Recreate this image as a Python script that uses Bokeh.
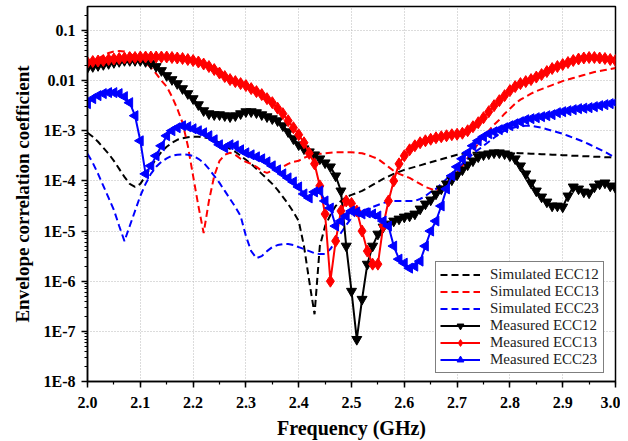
import math
from bokeh.plotting import figure
from bokeh.models import Range1d, FixedTicker, SingleIntervalTicker, PrintfTickFormatter
from bokeh.embed import file_html
from bokeh.resources import INLINE

# Frequency grid (GHz)
freq = [round(2.0 + 0.01 * i, 2) for i in range(101)]

# Values, stored as log10(ECC)
meas12_log = [
    -1.74, -1.72, -1.70, -1.68, -1.66, -1.64, -1.62, -1.60, -1.60, -1.60,
    -1.60, -1.62, -1.66, -1.72, -1.80, -1.90, -1.98, -2.06, -2.16, -2.26,
    -2.36, -2.48, -2.60, -2.66, -2.68, -2.68, -2.70, -2.72, -2.70, -2.66,
    -2.62, -2.62, -2.64, -2.68, -2.72, -2.76, -2.80, -2.90, -3.02, -3.16,
    -3.28, -3.36, -3.42, -3.48, -3.56, -3.64, -3.72, -3.90, -4.20, -5.30,
    -6.20, -7.16, -6.36, -5.66, -5.30, -5.06, -4.92, -4.86, -4.80, -4.76,
    -4.72, -4.70, -4.66, -4.56, -4.46, -4.38, -4.26, -4.16, -4.06, -3.98,
    -3.88, -3.78, -3.68, -3.60, -3.52, -3.48, -3.46, -3.44, -3.44, -3.46,
    -3.50, -3.56, -3.70, -3.86, -4.04, -4.20, -4.32, -4.42, -4.50, -4.50,
    -4.52, -4.30, -4.12, -4.16, -4.22, -4.24, -4.12, -4.06, -4.04, -4.10,
    -4.14,
]
meas13_log = [
    -1.64, -1.62, -1.61, -1.60, -1.58, -1.57, -1.56, -1.55, -1.54, -1.54,
    -1.53, -1.53, -1.53, -1.53, -1.53, -1.53, -1.54, -1.55, -1.56, -1.58,
    -1.60, -1.63, -1.67, -1.72, -1.78, -1.85, -1.92, -1.98, -2.02, -2.06,
    -2.10, -2.16, -2.22, -2.28, -2.36, -2.44, -2.55, -2.66, -2.80, -2.94,
    -3.08, -3.24, -3.45, -3.66, -4.10, -4.66, -6.00, -5.20, -4.60, -4.40,
    -4.45, -4.60, -5.00, -5.40, -5.66, -5.66, -4.90, -4.40, -4.00, -3.66,
    -3.50, -3.38, -3.30, -3.24, -3.20, -3.17, -3.14, -3.12, -3.10, -3.08,
    -3.07, -3.05, -3.00, -2.92, -2.84, -2.74, -2.62, -2.50, -2.40, -2.30,
    -2.20, -2.12, -2.06, -2.02, -1.98, -1.93, -1.88, -1.82, -1.76, -1.72,
    -1.68, -1.64, -1.60, -1.57, -1.55, -1.54, -1.54, -1.55, -1.56, -1.58,
    -1.60,
]
meas23_log = [
    -2.46, -2.36, -2.30, -2.26, -2.24, -2.24, -2.26, -2.32, -2.44, -2.70,
    -3.20, -3.86, -3.70, -3.50, -3.30, -3.10, -3.00, -2.94, -2.90, -2.92,
    -2.96, -3.00, -3.04, -3.10, -3.18, -3.28, -3.34, -3.28, -3.30, -3.38,
    -3.44, -3.48, -3.52, -3.56, -3.62, -3.70, -3.78, -3.86, -3.94, -4.02,
    -4.12, -4.26, -4.34, -4.22, -4.20, -4.40, -4.54, -4.90, -4.80, -4.70,
    -4.60, -4.62, -4.66, -4.64, -4.66, -4.70, -4.80, -4.90, -5.30, -5.56,
    -5.64, -5.74, -5.70, -5.60, -5.30, -5.00, -4.80, -4.50, -4.16, -3.90,
    -3.72, -3.56, -3.44, -3.30, -3.20, -3.12, -3.06, -3.02, -2.98, -2.94,
    -2.90, -2.86, -2.82, -2.78, -2.76, -2.74, -2.72, -2.70, -2.68, -2.64,
    -2.62, -2.60, -2.58, -2.56, -2.55, -2.54, -2.52, -2.50, -2.48, -2.46,
    -2.44,
]
sim12_log = [
    -3.04, -3.12, -3.22, -3.34, -3.46, -3.60, -3.76, -3.92, -4.06, -4.12,
    -4.06, -3.90, -3.72, -3.56, -3.42, -3.32, -3.24, -3.18, -3.15, -3.13,
    -3.12, -3.12, -3.13, -3.15, -3.18, -3.24, -3.30, -3.36, -3.42, -3.50,
    -3.58, -3.66, -3.76, -3.86, -3.96, -4.06, -4.18, -4.32, -4.46, -4.62,
    -4.80, -5.30, -6.00, -6.66, -5.30, -4.90, -4.68, -4.50, -4.40, -4.32,
    -4.28, -4.24, -4.20, -4.14, -4.08, -4.02, -3.96, -3.91, -3.86, -3.82,
    -3.78, -3.75, -3.72, -3.69, -3.66, -3.63, -3.60, -3.57, -3.54, -3.51,
    -3.48, -3.46, -3.45, -3.44, -3.44, -3.44, -3.44, -3.44, -3.44, -3.44,
    -3.44, -3.44, -3.45, -3.45, -3.46, -3.46, -3.47, -3.47, -3.48, -3.48,
    -3.49, -3.49, -3.50, -3.50, -3.51, -3.51, -3.52, -3.52, -3.53, -3.53,
    -3.54,
]
sim13_log = [
    -1.66, -1.62, -1.56, -1.50, -1.45, -1.42, -1.41, -1.42, -1.46, -1.52,
    -1.58, -1.64, -1.74, -1.86, -2.00, -2.12, -2.32, -2.56, -2.84, -3.30,
    -3.90, -4.50, -5.04, -4.40, -3.90, -3.60, -3.48, -3.44, -3.48, -3.56,
    -3.62, -3.66, -3.72, -3.80, -3.84, -3.80, -3.76, -3.72, -3.66, -3.62,
    -3.60, -3.54, -3.50, -3.48, -3.46, -3.45, -3.44, -3.43, -3.43, -3.43,
    -3.43, -3.44, -3.45, -3.48, -3.52, -3.56, -3.64, -3.72, -3.80, -3.86,
    -3.90, -3.94, -4.00, -4.06, -4.12, -4.16, -4.20, -4.12, -4.04, -3.94,
    -3.84, -3.70, -3.54, -3.40, -3.26, -3.12, -3.00, -2.88, -2.78, -2.66,
    -2.56, -2.46, -2.38, -2.32, -2.26, -2.21, -2.17, -2.13, -2.09, -2.05,
    -2.01, -1.98, -1.95, -1.92, -1.89, -1.86, -1.83, -1.81, -1.79, -1.77,
    -1.75,
]
sim23_log = [
    -3.46, -3.64, -3.86, -4.10, -4.34, -4.58, -4.90, -5.20, -4.90, -4.60,
    -4.30, -4.06, -3.86, -3.72, -3.62, -3.55, -3.50, -3.48, -3.47, -3.48,
    -3.50, -3.56, -3.64, -3.76, -3.90, -4.04, -4.20, -4.36, -4.52, -4.70,
    -5.10, -5.40, -5.54, -5.50, -5.40, -5.32, -5.28, -5.26, -5.26, -5.28,
    -5.32, -5.36, -5.40, -5.44, -5.46, -5.46, -5.36, -5.20, -5.04, -4.88,
    -4.74, -4.66, -4.60, -4.56, -4.52, -4.48, -4.44, -4.42, -4.40, -4.40,
    -4.40, -4.40, -4.40, -4.36, -4.30, -4.22, -4.16, -4.06, -3.96, -3.86,
    -3.76, -3.66, -3.56, -3.46, -3.38, -3.30, -3.22, -3.14, -3.06, -3.00,
    -2.96, -2.93, -2.91, -2.90, -2.90, -2.92, -2.94, -2.97, -3.00, -3.03,
    -3.06, -3.10, -3.14, -3.18, -3.22, -3.27, -3.32, -3.37, -3.42, -3.48,
    -3.54,
]

y_tick_values = [1e-8, 1e-7, 1e-6, 1e-5, 1e-4, 1e-3, 1e-2, 1e-1]
y_tick_labels = ["1E-8", "1E-7", "1E-6", "1E-5", "1E-4", "1E-3", "0.01", "0.1"]

series_names = ["Simulated ECC12", "Simulated ECC13", "Simulated ECC23",
                "Measured ECC12", "Measured ECC13", "Measured ECC23"]

x_title = "Frequency (GHz)"
y_title = "Envelope correlation coefficient"


def to_lin(vals):
    return [10 ** v for v in vals]


FONT = "Liberation Serif"
DASH = "7 4"

p = figure(width=620, height=441, y_axis_type="log",
           x_range=Range1d(2.0, 3.0), y_range=Range1d(1e-8, 0.30),
           output_backend="svg", toolbar_location=None,
           min_border_left=87, min_border_right=5, min_border_top=6, min_border_bottom=60,
           background_fill_color="white", border_fill_color="white")

# simulated (dashed)
p.line(freq, to_lin(sim12_log), line_color="black", line_width=2, line_dash=DASH, legend_label=series_names[0])
p.line(freq, to_lin(sim13_log), line_color="#ff0000", line_width=2, line_dash=DASH, legend_label=series_names[1])
p.line(freq, to_lin(sim23_log), line_color="#0000ff", line_width=2, line_dash=DASH, legend_label=series_names[2])

# measured (lines + markers)
p.line(freq, to_lin(meas12_log), line_color="black", line_width=2, legend_label=series_names[3])
p.scatter(freq, to_lin(meas12_log), marker="inverted_triangle", size=10, color="black", legend_label=series_names[3])
p.line(freq, to_lin(meas13_log), line_color="#ff0000", line_width=2, legend_label=series_names[4])
p.scatter(freq, to_lin(meas13_log), marker="diamond", size=12, color="#ff0000", legend_label=series_names[4])
p.line(freq, to_lin(meas23_log), line_color="#0000ff", line_width=2, legend_label=series_names[5])
p.scatter(freq, to_lin(meas23_log), marker="triangle", angle=math.pi / 2, size=10, color="#0000ff", legend_label=series_names[5])

# axes
p.xaxis.ticker = SingleIntervalTicker(interval=0.1, num_minor_ticks=2)
p.xaxis.formatter = PrintfTickFormatter(format="%.1f")
minor_y = [m * 10 ** e for e in range(-8, 0) for m in range(2, 10)]
p.yaxis.ticker = FixedTicker(ticks=y_tick_values, minor_ticks=minor_y)
p.yaxis.major_label_overrides = dict(zip(y_tick_values, y_tick_labels))

p.xaxis.axis_label = x_title
p.yaxis.axis_label = y_title

for ax in (p.xaxis[0], p.yaxis[0]):
    ax.axis_line_width = 1.5
    ax.axis_line_color = "black"
    ax.major_tick_line_width = 1.5
    ax.minor_tick_line_width = 1.2
    ax.major_tick_in = 0
    ax.major_tick_out = 6
    ax.minor_tick_in = 0
    ax.minor_tick_out = 3
    ax.major_label_text_font = FONT
    ax.major_label_text_font_style = "bold"
    ax.major_label_text_font_size = "16px"
    ax.major_label_text_color = "black"
    ax.axis_label_text_font = FONT
    ax.axis_label_text_font_style = "bold"
    ax.axis_label_text_font_size = "20px"
    ax.axis_label_text_color = "black"

p.yaxis.axis_label_text_font_size = "19px"
p.xaxis.major_label_standoff = 9
p.xaxis.axis_label_standoff = 6
p.yaxis.major_label_standoff = 6
p.yaxis.axis_label_standoff = 8

p.outline_line_color = "black"
p.outline_line_width = 1.5

for g in (p.xgrid[0], p.ygrid[0]):
    g.grid_line_color = "#b8b8b8"
    g.grid_line_dash = "1 2"
    g.grid_line_width = 1

lg = p.legend[0]
lg.location = (348, 8)
lg.border_line_color = "black"
lg.border_line_width = 1.5
lg.background_fill_color = "white"
lg.background_fill_alpha = 1.0
lg.label_text_font = FONT
lg.label_text_font_size = "15px"
lg.label_text_color = "#222222"
lg.glyph_width = 40
lg.glyph_height = 17
lg.label_height = 17
lg.spacing = 0
lg.padding = 4
lg.margin = 0
lg.label_standoff = 10

open("out.html", "w").write(file_html(p, INLINE))
